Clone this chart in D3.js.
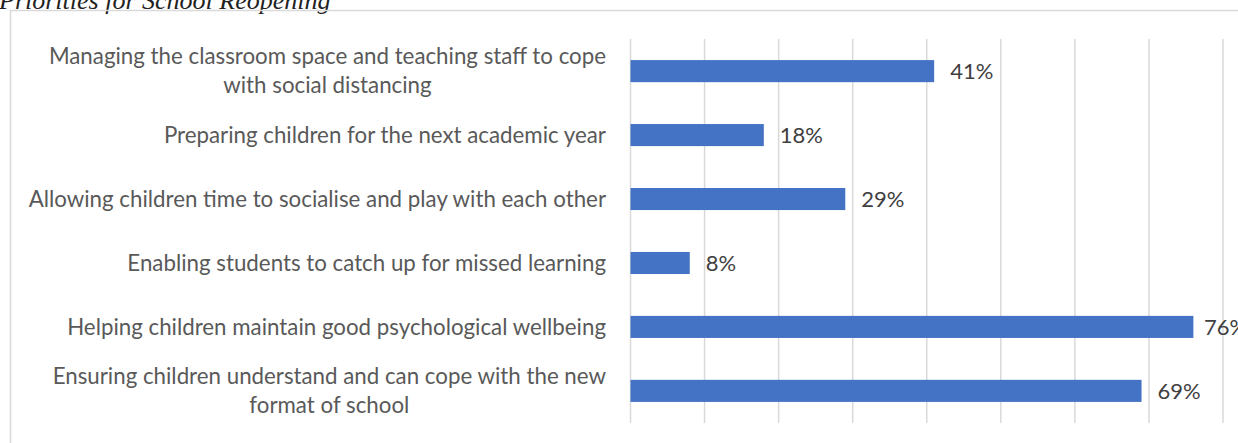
<!DOCTYPE html>
<html>
<head>
<meta charset="utf-8">
<script src="https://cdn.jsdelivr.net/npm/d3@7"></script>
<style>
  body { margin: 0; background: #fff; }
</style>
</head>
<body>
<script>
// chart data
const categories = [
  ["Managing the classroom space and teaching staff to cope", "with social distancing"],
  ["Preparing children for the next academic year"],
  ["Allowing children time to socialise and play with each other"],
  ["Enabling students to catch up for missed learning"],
  ["Helping children maintain good psychological wellbeing"],
  ["Ensuring children understand and can cope with the new", "format of school"]
];
const values = [41, 18, 29, 8, 76, 69];
const ticks = [0, 10, 20, 30, 40, 50, 60, 70, 80];
const title = "Priorities for School Reopening";

const width = 1238;
const height = 443;

const svg = d3.select("body").append("svg")
  .attr("width", width)
  .attr("height", height);

// title, mostly cropped off the top
svg.append("text")
  .attr("x", -1)
  .attr("y", 9)
  .attr("font-family", "Liberation Serif")
  .attr("font-style", "italic")
  .attr("font-size", 26)
  .attr("fill", "#222")
  .text(title);

// chart frame
svg.append("rect")
  .attr("x", 10.5)
  .attr("y", 10.5)
  .attr("width", 1300)
  .attr("height", 500)
  .attr("fill", "none")
  .attr("stroke", "#d9d9d9")
  .attr("stroke-width", 1.5);

const x = d3.scaleLinear()
  .domain([0, 80])
  .range([630.5, 1223]);

const y = d3.scaleBand()
  .domain(d3.range(categories.length))
  .range([39, 423])
  .paddingInner(0.655)
  .paddingOuter(0.33);

// gridlines
svg.append("g")
  .selectAll("line")
  .data(ticks)
  .enter()
  .append("line")
  .attr("x1", d => x(d))
  .attr("x2", d => x(d))
  .attr("y1", 39)
  .attr("y2", 423)
  .attr("stroke", "#d9d9d9")
  .attr("stroke-width", 1.5);

// bars
svg.append("g")
  .selectAll("rect")
  .data(values)
  .enter()
  .append("rect")
  .attr("x", x(0))
  .attr("y", (d, i) => y(i))
  .attr("width", d => x(d) - x(0))
  .attr("height", y.bandwidth())
  .attr("fill", "#4472c4");

// value labels (pulled in a bit when they'd run off the edge)
svg.append("g")
  .selectAll("text")
  .data(values)
  .enter()
  .append("text")
  .attr("x", d => Math.min(x(d) + 16, 1204))
  .attr("y", (d, i) => y(i) + y.bandwidth() / 2)
  .attr("dy", "0.35em")
  .attr("font-family", "Lato")
  .attr("font-size", 22)
  .attr("fill", "#404040")
  .text(d => d + "%");

// category labels
const labelRight = 606;
const lineH = 29;
const labels = svg.append("g")
  .attr("font-family", "Lato")
  .attr("font-size", 22.3)
  .attr("fill", "#595959");

categories.forEach(function (lines, i) {
  const cy = y(i) + y.bandwidth() / 2;
  const t = labels.append("text");
  lines.forEach(function (ln, j) {
    t.append("tspan")
      .attr("y", cy + (j - (lines.length - 1) / 2) * lineH)
      .attr("dy", "0.35em")
      .text(ln);
  });
  // right align the block, center the wrapped lines within it
  const spans = t.selectAll("tspan").nodes();
  const w = d3.max(spans, s => s.getComputedTextLength());
  t.attr("text-anchor", lines.length > 1 ? "middle" : "end");
  spans.forEach(s => d3.select(s).attr("x", lines.length > 1 ? labelRight - w / 2 : labelRight));
});
</script>
</body>
</html>
